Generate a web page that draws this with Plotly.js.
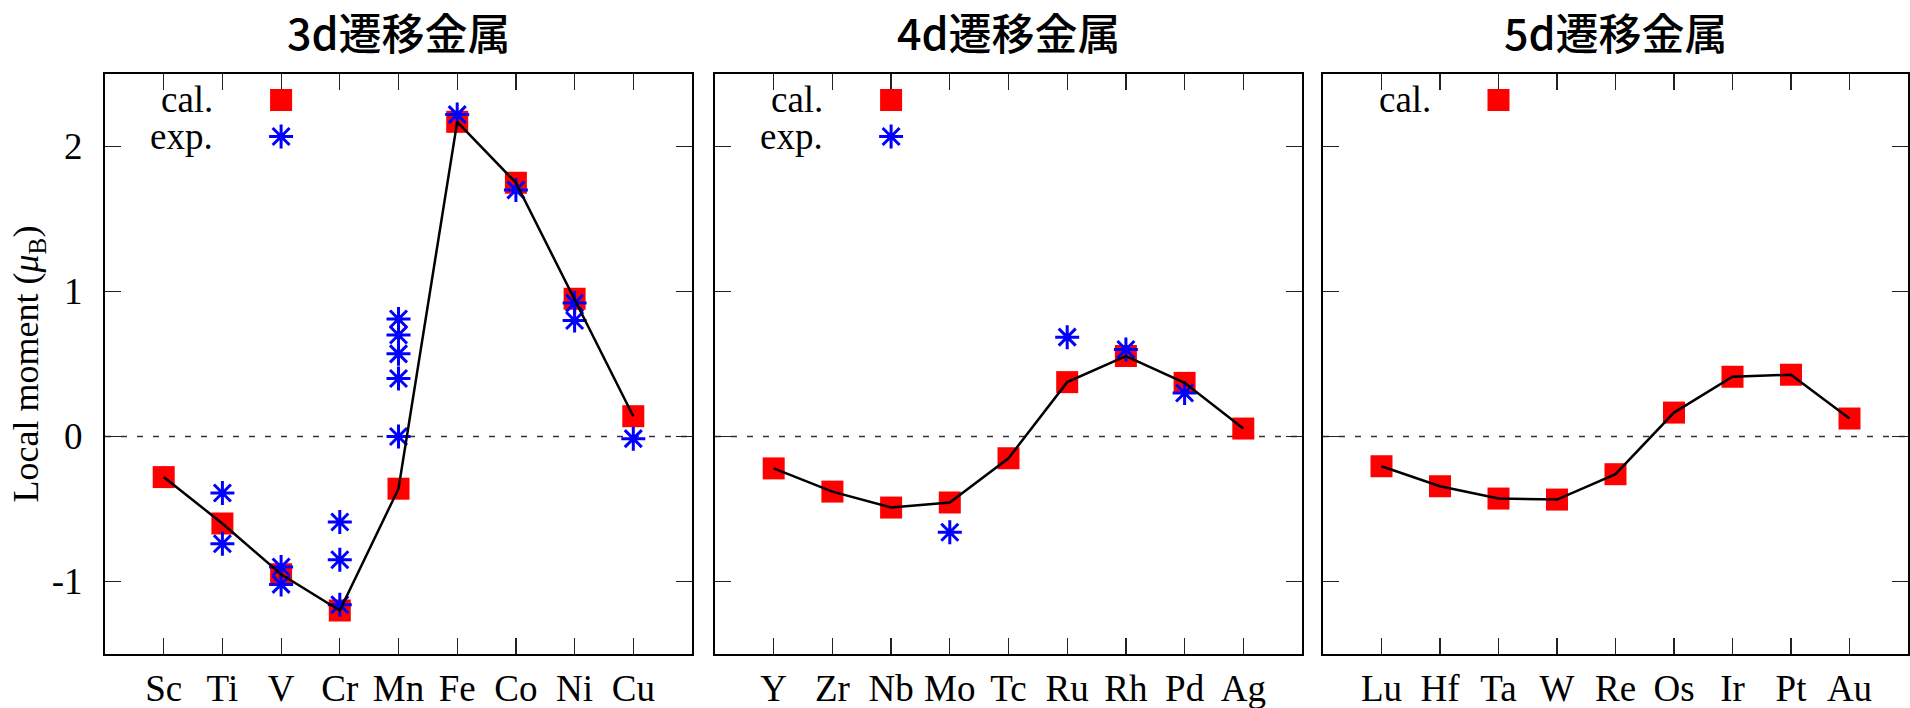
<!DOCTYPE html>
<html>
<head>
<meta charset="utf-8">
<script src="https://cdn.plot.ly/plotly-3.0.1.min.js"></script>
<style>html,body{margin:0;padding:0;background:#fff;}#chart{width:1910px;height:708px;}</style>
</head>
<body>
<div id="chart"></div>
<script>
// ---- data ----
const panelTitles = ['3d遷移金属', '4d遷移金属', '5d遷移金属'];
const yTickVals = [-1, 0, 1, 2];
const yTickText = ['-1', '0', '1', '2'];

const cats3d = ['Sc', 'Ti', 'V', 'Cr', 'Mn', 'Fe', 'Co', 'Ni', 'Cu'];
const cal3d = [-0.28, -0.60, -0.95, -1.20, -0.36, 2.17, 1.75, 0.95, 0.14];
const exp3dX = ['Ti', 'Ti', 'V', 'V', 'Cr', 'Cr', 'Cr', 'Mn', 'Mn', 'Mn', 'Mn', 'Mn', 'Fe', 'Co', 'Ni', 'Ni', 'Cu'];
const exp3dY = [-0.39, -0.74, -0.90, -1.02, -0.59, -0.85, -1.16, 0.81, 0.70, 0.57, 0.40, 0.00, 2.22, 1.70, 0.92, 0.80, -0.015];

const cats4d = ['Y', 'Zr', 'Nb', 'Mo', 'Tc', 'Ru', 'Rh', 'Pd', 'Ag'];
const cal4d = [-0.22, -0.38, -0.49, -0.455, -0.15, 0.375, 0.555, 0.37, 0.055];
const exp4dX = ['Mo', 'Ru', 'Rh', 'Pd'];
const exp4dY = [-0.66, 0.685, 0.60, 0.30];

const cats5d = ['Lu', 'Hf', 'Ta', 'W', 'Re', 'Os', 'Ir', 'Pt', 'Au'];
const cal5d = [-0.205, -0.343, -0.428, -0.435, -0.26, 0.165, 0.412, 0.426, 0.124];

const legendCal = 'cal.';
const legendExp = 'exp.';

// ---- styles ----
const RED = '#ff0000', BLUE = '#0000ff';
const serif = 'Liberation Serif, Times New Roman, serif';
const W = 1910, H = 708;
const xPx = [[105, 692], [715, 1302], [1323, 1908]];
const yPx = [74, 654];

const panels = [
  {cats: cats3d, cal: cal3d, ex: exp3dX, ey: exp3dY},
  {cats: cats4d, cal: cal4d, ex: exp4dX, ey: exp4dY},
  {cats: cats5d, cal: cal5d, ex: null, ey: null}
];

const traces = [];
const layout = {
  width: W, height: H,
  margin: {l: 0, r: 0, t: 0, b: 0},
  paper_bgcolor: '#fff', plot_bgcolor: '#fff',
  showlegend: false,
  annotations: [], shapes: []
};

panels.forEach((p, i) => {
  const n = i === 0 ? '' : String(i + 1);
  const xa = 'x' + n, ya = 'y' + n;
  // calculated values: red squares
  traces.push({
    type: 'scatter', mode: 'markers', x: p.cats, y: p.cal, xaxis: xa, yaxis: ya,
    name: legendCal,
    marker: {symbol: 'square', size: 22, color: RED, line: {width: 0}},
    hoverinfo: 'x+y'
  });
  // experimental values: blue asterisks
  if (p.ex) {
    traces.push({
      type: 'scatter', mode: 'markers', x: p.ex, y: p.ey, xaxis: xa, yaxis: ya,
      name: legendExp,
      marker: {symbol: 'asterisk-open', size: 20, color: BLUE, line: {color: BLUE, width: 3}},
      hoverinfo: 'x+y'
    });
  }
  // connecting line through calculated values
  traces.push({
    type: 'scatter', mode: 'lines', x: p.cats, y: p.cal, xaxis: xa, yaxis: ya,
    line: {color: '#000', width: 2.5}, hoverinfo: 'skip', showlegend: false
  });

  const xKey = 'xaxis' + n, yKey = 'yaxis' + n;
  layout[xKey] = {
    domain: [xPx[i][0] / W, xPx[i][1] / W],
    anchor: ya,
    type: 'category', categoryorder: 'array', categoryarray: p.cats,
    range: [-1, 9],
    showline: true, linecolor: '#000', linewidth: 2, mirror: 'ticks',
    ticks: 'inside', ticklen: 16, tickwidth: 1.2, tickcolor: '#222',
    showgrid: false, zeroline: false,
    tickfont: {family: serif, size: 37, color: '#000'},
    ticklabelstandoff: 1,
    fixedrange: true
  };
  layout[yKey] = {
    domain: [1 - yPx[1] / H, 1 - yPx[0] / H],
    anchor: xa,
    range: [-1.5, 2.5],
    tickmode: 'array', tickvals: yTickVals, ticktext: yTickText,
    showline: true, linecolor: '#000', linewidth: 2, mirror: 'ticks',
    ticks: 'inside', ticklen: 16, tickwidth: 1.2, tickcolor: '#222',
    showgrid: false, zeroline: false,
    showticklabels: i === 0,
    tickfont: {family: serif, size: 37, color: '#000'},
    ticklabelstandoff: 13,
    fixedrange: true
  };
  if (i === 0) {
    layout[yKey].title = {
      text: 'Local moment (<i>μ</i><sub>B</sub>)',
      font: {family: serif, size: 36, color: '#000'},
      standoff: 2
    };
  }

  // dashed zero line
  layout.shapes.push({
    type: 'line', xref: xa + ' domain', yref: ya, x0: 0, x1: 1, y0: 0, y1: 0,
    line: {color: '#333', width: 1.5, dash: '6px,10px'}, layer: 'below'
  });

  // panel title
  layout.annotations.push({
    text: panelTitles[i], showarrow: false,
    xref: 'paper', yref: 'paper',
    x: (xPx[i][0] + xPx[i][1]) / 2 / W, y: 1 - 31.5 / H,
    xanchor: 'center', yanchor: 'middle',
    font: {family: 'Noto Sans CJK JP, sans-serif', size: 43, weight: 500, color: '#000'}
  });

  // key (gnuplot style: text then symbol)
  const keyRows = p.ex ? [legendCal, legendExp] : [legendCal];
  keyRows.forEach((lbl, k) => {
    const yd = k === 0 ? 1 - 26 / 580 : 1 - 62.5 / 580;
    layout.annotations.push({
      text: lbl, showarrow: false,
      xref: xa + ' domain', yref: ya + ' domain',
      x: 110 / 587, y: yd, xanchor: 'right', yanchor: 'middle',
      font: {family: serif, size: 37, color: '#000'}
    });
    if (k === 0) {
      layout.shapes.push({
        type: 'rect', xref: xa + ' domain', yref: ya + ' domain',
        xsizemode: 'pixel', ysizemode: 'pixel', xanchor: 0.3, yanchor: yd,
        x0: -11, x1: 11, y0: -11, y1: 11,
        fillcolor: RED, line: {width: 0}
      });
    } else {
      layout.shapes.push({
        type: 'path', xref: xa + ' domain', yref: ya + ' domain',
        xsizemode: 'pixel', ysizemode: 'pixel', xanchor: 0.3, yanchor: yd,
        path: 'M0,-12V12M-12,0H12M-8.5,-8.5L8.5,8.5M-8.5,8.5L8.5,-8.5',
        line: {color: BLUE, width: 3}
      });
    }
  });
});

Plotly.newPlot('chart', traces, layout, {displayModeBar: false, staticPlot: true});
</script>
</body>
</html>
